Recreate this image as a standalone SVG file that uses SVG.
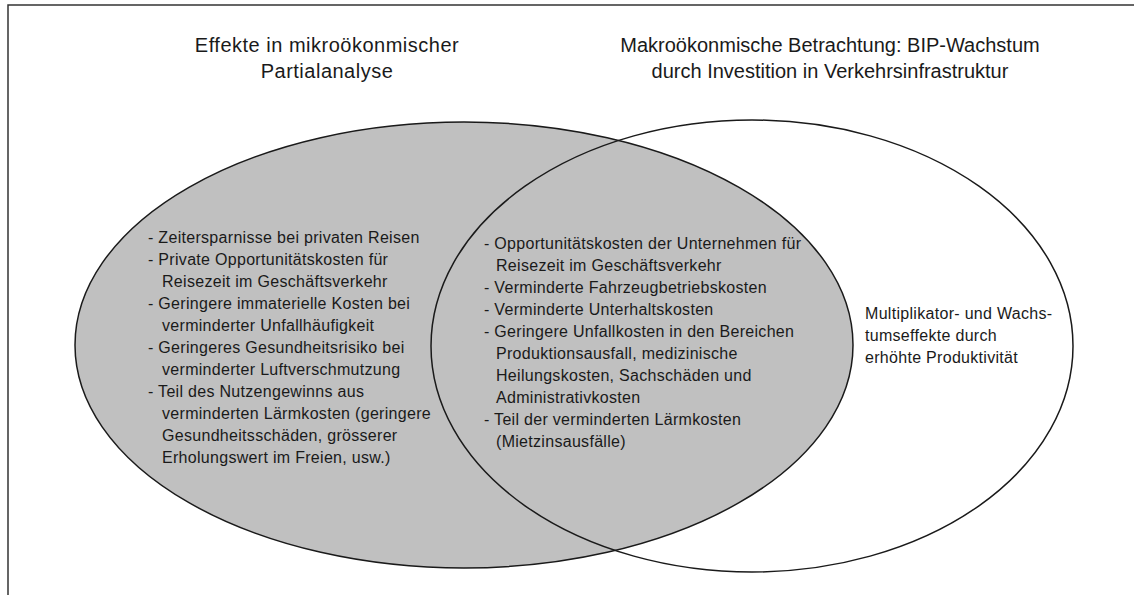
<svg xmlns="http://www.w3.org/2000/svg" width="1134" height="595" viewBox="0 0 1134 595">
  <style>
    .frame { fill: none; stroke: #333; stroke-width: 1.5; }
    .set { stroke: #1a1a1a; stroke-width: 1.5; }
    .title { font-family: "Liberation Sans", Arial, sans-serif; font-size: 20px; fill: #1a1a1a; text-anchor: middle; }
    .body { font-family: "Liberation Sans", Arial, sans-serif; font-size: 16px; letter-spacing: 0.3px; fill: #1a1a1a; }
  </style>
  <rect width="1134" height="595" fill="#ffffff"/>
  <!-- open frame: top and left edges only -->
  <path class="frame" d="M8,600 V5 H1140"/>

  <g id="micro-set">
    <ellipse class="set" cx="464" cy="345" rx="389" ry="223" fill="#c0c0c0"/>
  </g>
  <g id="macro-set">
    <ellipse class="set" cx="752" cy="346" rx="321" ry="226" fill="none"/>
  </g>

  <g id="micro-title">
    <text class="title" x="327" y="52" letter-spacing="0.5">Effekte in mikroökonmischer</text>
    <text class="title" x="327" y="78" letter-spacing="0.5">Partialanalyse</text>
  </g>
  <g id="macro-title">
    <text class="title" x="830" y="52">Makroökonmische Betrachtung: BIP-Wachstum</text>
    <text class="title" x="830" y="78">durch Investition in Verkehrsinfrastruktur</text>
  </g>

  <g id="micro-only">
    <text class="body" x="148" y="243">- Zeitersparnisse bei privaten Reisen</text>
    <text class="body" x="148" y="265">- Private Opportunitätskosten für</text>
    <text class="body" x="162" y="287">Reisezeit im Geschäftsverkehr</text>
    <text class="body" x="148" y="309">- Geringere immaterielle Kosten bei</text>
    <text class="body" x="162" y="331">verminderter Unfallhäufigkeit</text>
    <text class="body" x="148" y="353">- Geringeres Gesundheitsrisiko bei</text>
    <text class="body" x="162" y="375">verminderter Luftverschmutzung</text>
    <text class="body" x="148" y="397">- Teil des Nutzengewinns aus</text>
    <text class="body" x="162" y="419">verminderten Lärmkosten (geringere</text>
    <text class="body" x="162" y="441">Gesundheitsschäden, grösserer</text>
    <text class="body" x="162" y="463">Erholungswert im Freien, usw.)</text>
  </g>

  <g id="overlap">
    <text class="body" x="484" y="249">- Opportunitätskosten der Unternehmen für</text>
    <text class="body" x="496" y="271">Reisezeit im Geschäftsverkehr</text>
    <text class="body" x="484" y="293">- Verminderte Fahrzeugbetriebskosten</text>
    <text class="body" x="484" y="315">- Verminderte Unterhaltskosten</text>
    <text class="body" x="484" y="337">- Geringere Unfallkosten in den Bereichen</text>
    <text class="body" x="496" y="359">Produktionsausfall, medizinische</text>
    <text class="body" x="496" y="381">Heilungskosten, Sachschäden und</text>
    <text class="body" x="496" y="403">Administrativkosten</text>
    <text class="body" x="484" y="425">- Teil der verminderten Lärmkosten</text>
    <text class="body" x="496" y="447">(Mietzinsausfälle)</text>
  </g>

  <g id="macro-only">
    <text class="body" x="865" y="319">Multiplikator- und Wachs-</text>
    <text class="body" x="865" y="341">tumseffekte durch</text>
    <text class="body" x="865" y="363">erhöhte Produktivität</text>
  </g>
</svg>
